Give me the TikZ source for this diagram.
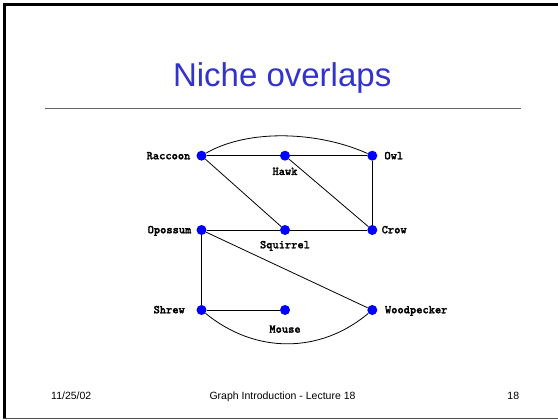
\documentclass[tikz,border=0pt]{standalone}
\usepackage{fontspec}
\setmainfont{Liberation Sans}
\newfontfamily\labelfont[FakeBold=1.5]{lmmonolt10-bold.otf}
\definecolor{titleblue}{RGB}{51,51,204}
\definecolor{rulegray}{RGB}{100,100,100}
\begin{document}
\begin{tikzpicture}[x=1pt,y=-1pt,
  vertex/.style={circle,fill=blue,inner sep=0pt,minimum size=10pt},
  edge/.style={draw=black,line width=0.8pt},
  vlabel/.style={font=\labelfont\fontsize{11.9}{13}\selectfont,anchor=base,inner sep=0pt},
  footer/.style={font=\fontsize{10.5}{12}\selectfont,anchor=base,inner sep=0pt}]
\useasboundingbox (0,0) rectangle (558,420);
\fill[white] (0,0) rectangle (558,420);

% slide frame
\draw[line width=3pt,black] (4.5,419) -- (4.5,4.3) -- (558,4.3);
\draw[line width=1.5pt,black!70] (3,418.5) -- (558,418.5);

% title and rule
\node[anchor=base,inner sep=0pt,text=titleblue,font=\fontsize{33}{40}\selectfont] (title) at (282.2,86.7) {Niche overlaps};
\draw[line width=1.3pt,rulegray] (45,108.5) -- (520.7,108.5);

% vertices
\node[vertex] (raccoon) at (201.5,155.7) {};
\node[vertex] (hawk) at (285,155.7) {};
\node[vertex] (owl) at (372.3,155.7) {};
\node[vertex] (opossum) at (201.5,230) {};
\node[vertex] (squirrel) at (285,230) {};
\node[vertex] (crow) at (372.3,230) {};
\node[vertex] (shrew) at (201.5,310) {};
\node[vertex] (mouse) at (285,310) {};
\node[vertex] (woodpecker) at (372.3,310) {};

% vertex labels
\node[vlabel] (raccoon-l) at (168.5,159.3) {Raccoon};
\node[vlabel] (hawk-l) at (285,175) {Hawk};
\node[vlabel] (owl-l) at (393.8,159.3) {Owl};
\node[vlabel] (opossum-l) at (169.5,233.3) {Opossum};
\node[vlabel] (squirrel-l) at (285,248.3) {Squirrel};
\node[vlabel] (crow-l) at (394.2,233.3) {Crow};
\node[vlabel] (shrew-l) at (169.2,313.3) {Shrew};
\node[vlabel] (mouse-l) at (285,332.7) {Mouse};
\node[vlabel] (woodpecker-l) at (416.2,313.3) {Woodpecker};

% edges
\draw[edge] (raccoon) .. controls (250,128) and (320,132) .. (owl);
\draw[edge] (raccoon) -- (hawk);
\draw[edge] (hawk) -- (owl);
\draw[edge] (raccoon) -- (squirrel);
\draw[edge] (hawk) -- (crow);
\draw[edge] (owl) -- (crow);
\draw[edge] (opossum) -- (squirrel);
\draw[edge] (squirrel) -- (crow);
\draw[edge] (opossum) -- (shrew);
\draw[edge] (opossum) -- (woodpecker);
\draw[edge] (shrew) -- (mouse);
\draw[edge] (shrew) .. controls (255,354) and (320,354) .. (woodpecker);

% footer
\node[footer,anchor=base west] (date) at (51,399) {11/25/02};
\node[footer] (course) at (282.5,399) {Graph Introduction - Lecture 18};
\node[footer,anchor=base east] (page) at (519.3,399) {18};
\end{tikzpicture}
\end{document}
